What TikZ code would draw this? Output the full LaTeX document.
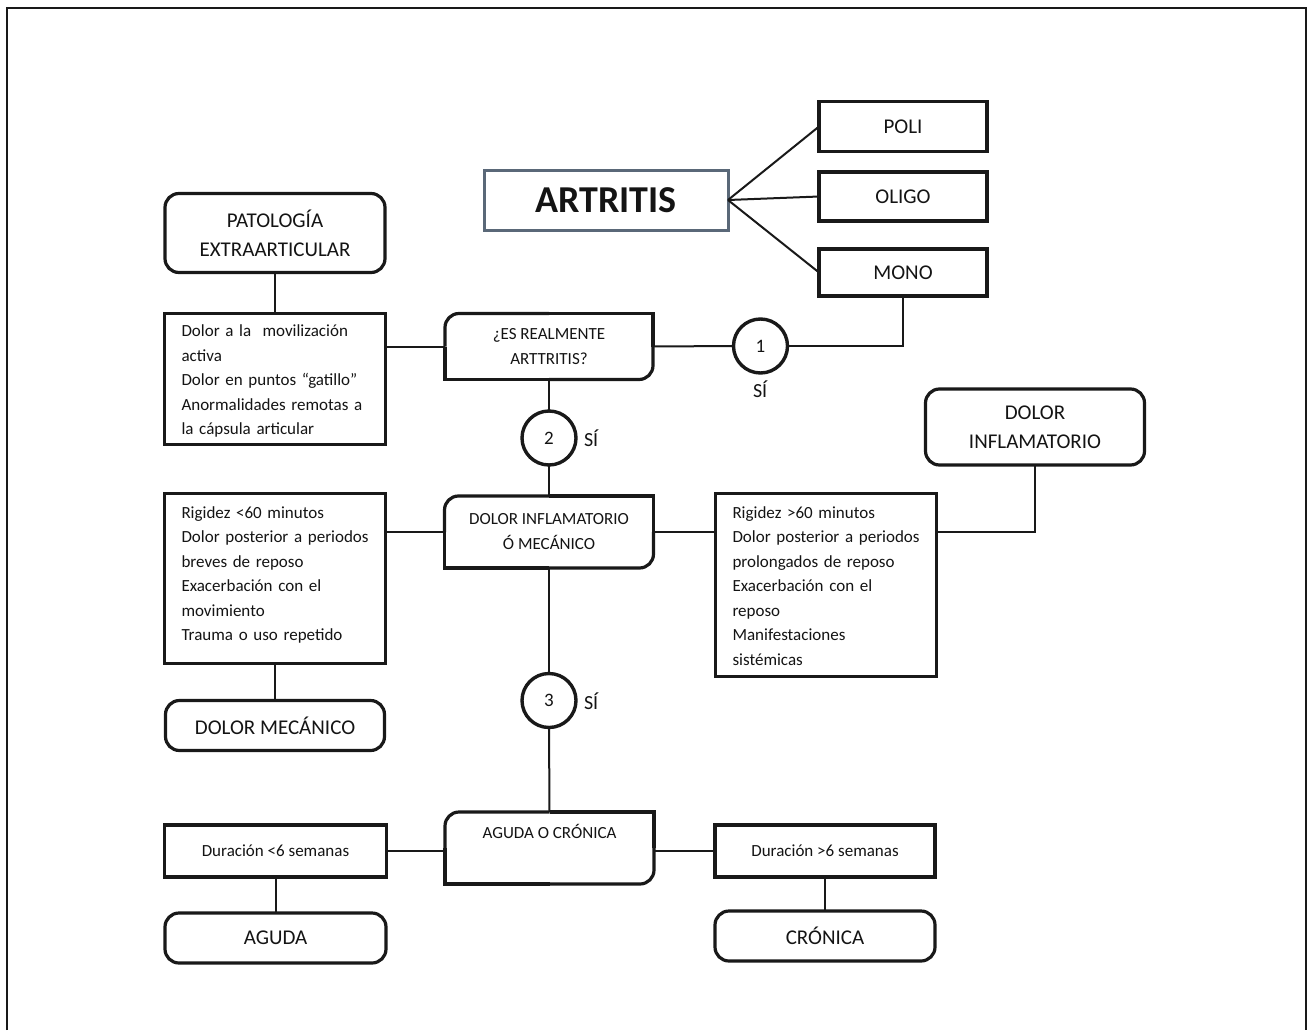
\documentclass[tikz,border=0pt]{standalone}
\usepackage{fontspec}
\setmainfont{Carlito}
\newcommand\nohyph{\hyphenpenalty=10000\relax}
% outline of a box whose top-left and bottom-right corners are rounded
\newcommand\tworound[1]{%
  \draw[boxline,rounded corners=14pt] (#1.west) |- (#1.north);
  \draw[boxline] (#1.north) -| (#1.east);
  \draw[boxline,rounded corners=14pt] (#1.east) |- (#1.south);
  \draw[boxline] (#1.south) -| (#1.west);}
\begin{document}
\begin{tikzpicture}[x=1pt,y=-1pt,
  every node/.style={inner sep=0pt,outer sep=0pt,text=black!92},
  boxline/.style={draw=black!90,line width=3.2pt},
  link/.style={draw=black!90,line width=2pt},
  big/.style={font=\fontsize{21}{29}\selectfont,align=center},
  small/.style={font=\fontsize{17}{25}\selectfont,align=center},
  sqbox/.style={boxline,rectangle,big},
  rbox/.style={boxline,rectangle,rounded corners=14pt,big},
  qbox/.style={rectangle,small},
  listbox/.style={boxline,rectangle,minimum width=221pt},
  listtext/.style={anchor=west,align=left,text width=200pt,
    font=\fontsize{17}{24.5}\selectfont\nohyph},
  durbox/.style={boxline,rectangle,small,minimum width=222pt,minimum height=52pt},
  step circle/.style={circle,draw=black!90,line width=3.4pt,minimum size=54pt,
    font=\fontsize{19}{19}\selectfont},
  yes/.style={anchor=base west,font=\fontsize{20}{20}\selectfont}]

\useasboundingbox (0,0) rectangle (1308,1030);
\fill[white] (0,0) rectangle (1308,1030);
\draw[black!90,line width=1.6pt] (7,1030) -- (7,8) -- (1306,8) -- (1306,1030);

% title and its three kinds
\node[draw={rgb,255:red,90;green,104;blue,120},line width=3pt,rectangle,
  minimum width=244pt,minimum height=60pt,
  font=\fontsize{38}{40}\selectfont\bfseries] (art) at (606,200) {ARTRITIS};
\node[sqbox,minimum width=168pt,minimum height=50pt] (poli) at (903,126.5) {POLI};
\node[sqbox,minimum width=168pt,minimum height=49pt] (oligo) at (903,196.5) {OLIGO};
\node[sqbox,minimum width=168pt,minimum height=47pt] (mono) at (903,272.5) {MONO};

% step 1
\node[qbox,minimum width=208pt,minimum height=66pt] (es) at (549,346.5)
  {¿ES REALMENTE\\ARTTRITIS?};
\tworound{es}
\node[step circle] (c1) at (760.5,346) {1};
\node[yes] (si1) at (753,397) {SÍ};
\node[rbox,minimum width=220pt,minimum height=79pt] (pat) at (275,233)
  {PATOLOGÍA\\EXTRAARTICULAR};
\node[listbox,minimum height=131pt] (l1) at (275,379) {};
\node[listtext] (l1t) at ([xshift=17pt,yshift=-2pt]l1.west)
  {Dolor a la\ \ movilización\\activa\\Dolor en puntos “gatillo”\\
   Anormalidades remotas a\\la cápsula articular};

% step 2
\node[step circle] (c2) at (549,438) {2};
\node[yes] (si2) at (584,446) {SÍ};
\node[qbox,minimum width=209pt,minimum height=72pt] (dim) at (549,532)
  {DOLOR INFLAMATORIO\\Ó MECÁNICO};
\tworound{dim}
\node[listbox,minimum height=170pt] (l2) at (275,578.5) {};
\node[listtext,anchor=north west] (l2t) at ([xshift=17pt,yshift=-13pt]l2.north west)
  {Rigidez <60 minutos\\Dolor posterior a periodos\\breves de reposo\\
   Exacerbación con el\\movimiento\\Trauma o uso repetido};
\node[listbox,minimum height=183pt] (l3) at (826,585) {};
\node[listtext,anchor=north west] (l3t) at ([xshift=17pt,yshift=-13pt]l3.north west)
  {Rigidez >60 minutos\\Dolor posterior a periodos\\prolongados de reposo\\
   Exacerbación con el\\reposo\\Manifestaciones\\sistémicas};
\node[rbox,minimum width=219pt,minimum height=76pt] (infl) at (1035,427)
  {DOLOR\\INFLAMATORIO};
\node[rbox,minimum width=219pt,minimum height=50pt] (mec) at (275,725.5)
  {DOLOR MECÁNICO};

% step 3
\node[step circle] (c3) at (549,700.5) {3};
\node[yes] (si3) at (584,709) {SÍ};
\node[qbox,minimum width=209pt,minimum height=72pt] (agc) at (549.5,848) {};
\tworound{agc}
\node[small,anchor=north] (agct) at ([yshift=-12pt]agc.north) {AGUDA O CRÓNICA};
\node[durbox] (d1) at (275.5,851) {Duración <6 semanas};
\node[durbox,minimum width=220pt] (d2) at (825,851) {Duración >6 semanas};
\node[rbox,minimum width=221pt,minimum height=50pt] (aguda) at (275.5,938) {AGUDA};
\node[rbox,minimum width=220pt,minimum height=50pt] (cron) at (825,936) {CRÓNICA};

% connectors
\draw[link] (art.east) -- (poli.west);
\draw[link] (art.east) -- (oligo.west);
\draw[link] (art.east) -- (mono.west);
\draw[link] (mono.south) |- (c1.east);
\draw[link] (es.east) -- (c1.west);
\draw[link] (l1.east |- es.west) -- (es.west);
\draw[link] (pat.south) -- (l1.north);
\draw[link] (es.south) -- (c2.north);
\draw[link] (c2.south) -- (dim.north);
\draw[link] (l2.east |- dim.west) -- (dim.west);
\draw[link] (dim.east) -- (l3.west |- dim.east);
\draw[link] (infl.south) |- (l3.east |- dim.east);
\draw[link] (l2.south) -- (mec.north);
\draw[link] (dim.south) -- (c3.north);
\draw[link] (c3.south) -- (agc.north);
\draw[link] (d1.east) -- (agc.west |- d1.east);
\draw[link] (agc.east |- d2.west) -- (d2.west);
\draw[link] (d1.south) -- (aguda.north);
\draw[link] (d2.south) -- (cron.north);
\end{tikzpicture}
\end{document}
